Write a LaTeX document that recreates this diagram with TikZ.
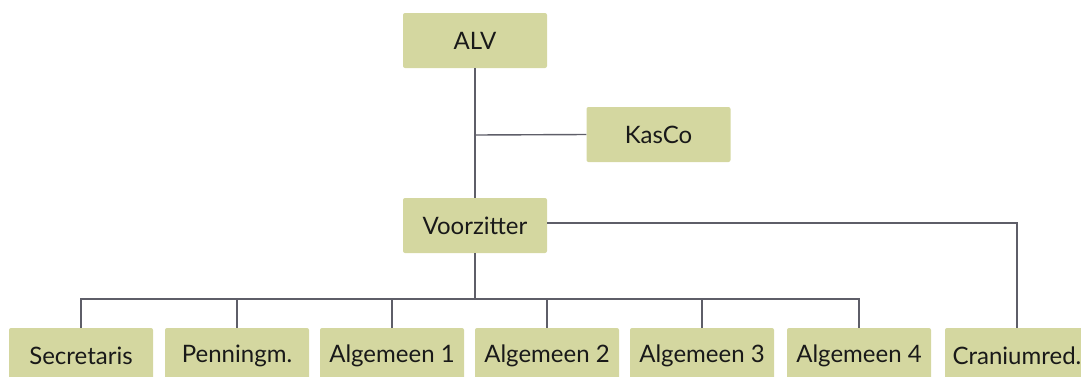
\documentclass[tikz,border=0pt]{standalone}
\usepackage{fontspec}
\setmainfont{Lato}
\definecolor{boxfill}{HTML}{D4D7A0}
\definecolor{linecol}{HTML}{5E5E68}
\begin{document}
\begin{tikzpicture}[x=1pt,y=-1pt,
  orgbox/.style={fill=boxfill, draw=none, rounded corners=2pt, minimum width=144pt, minimum height=55pt, inner sep=0pt,
     font=\fontsize{24}{28}\selectfont, text=black!90},
  conn/.style={draw=linecol, line width=1.4pt}]
\useasboundingbox (0,0) rectangle (1081,376);
\clip (0,0) rectangle (1081,376);
\node[orgbox] (alv) at (475,40.5) {ALV};
\node[orgbox] (kasco) at (658.5,134.5) {KasCo};
\node[orgbox] (vz) at (475,225.5) {Voorzitter};
\node[orgbox] (sec) at (81,355.5) {Secretaris};
\node[orgbox] (pen) at (237,355.5) {Penningm.};
\node[orgbox] (a1) at (392,355.5) {Algemeen 1};
\node[orgbox] (a2) at (547,355.5) {Algemeen 2};
\node[orgbox] (a3) at (702,355.5) {Algemeen 3};
\node[orgbox] (a4) at (859,355.5) {Algemeen 4};
\node[orgbox] (cr) at (1017,355.5) {Craniumred.};
\coordinate (kj) at (475,135);
\coordinate (bus) at (475,299);
\coordinate (crc) at (1017,223);
\draw[conn] (alv.south) -- (vz.north);
\draw[conn] (kasco.west) -- (kj);
\draw[conn] (vz.south) -- (bus);
\draw[conn] (vz.east |- crc) -- (crc) -- (cr.north);
\draw[conn] (sec.north) -- (sec.north |- bus) -- (a4.north |- bus) -- (a4.north);
\foreach \n in {pen,a1,a2,a3} \draw[conn] (\n.north) -- (\n.north |- bus);
\end{tikzpicture}
\end{document}
